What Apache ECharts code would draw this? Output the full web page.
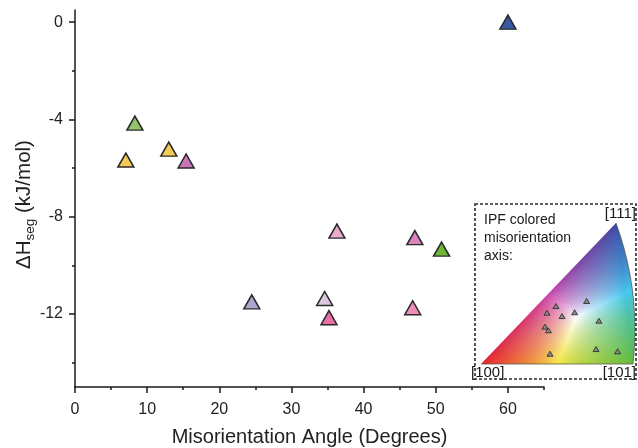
<!DOCTYPE html>
<html><head><meta charset="utf-8">
<script src="https://cdn.jsdelivr.net/npm/echarts@6/dist/echarts.min.js"></script>
<style>html,body{margin:0;padding:0;background:#fff}#c{width:638px;height:448px}</style>
</head><body><div id="c"></div>
<script>
// ---- data ----
const angles = [60.0, 8.3, 7.05, 13.0, 15.4, 24.5, 34.6, 35.2, 36.3, 47.1, 50.8, 46.8];
const dH     = [0.0, -4.15, -5.67, -5.22, -5.71, -11.5, -11.36, -12.15, -8.59, -8.86, -9.33, -11.74];
const pointColors = ['#3b5aa6', '#93c46c', '#f4cb55', '#f4cb55', '#c874b8', '#a9a8d3',
                     '#dcc6e0', '#ec6faa', '#e9aacd', '#dc83bf', '#6cb835', '#f08dbd'];
const xMajorTicks = [0, 10, 20, 30, 40, 50, 60];
const xMinorTicks = [5, 15, 25, 35, 45, 55, 65];
const yMajorTicks = [0, -4, -8, -12];
const yMinorTicks = [-2, -6, -10, -14];
// inset (IPF triangle) marker positions, normalised to the triangle's bounding box
const ipfX = [0.493, 0.695, 0.434, 0.533, 0.616, 0.776, 0.421, 0.443, 0.454, 0.757, 0.899];
const ipfY = [0.411, 0.447, 0.364, 0.340, 0.367, 0.307, 0.265, 0.239, 0.073, 0.106, 0.090];
const insetLines = ['IPF colored', 'misorientation', 'axis:'];
const cornerLabels = ['[100]', '[101]', '[111]'];

const FONT = '"Liberation Sans", Arial, Helvetica, sans-serif';
const AX = '#1a1a1a';

function makeIPF() {
  const ox = 478, oy = 221, W = 160, H = 146, S = 2;
  const R = [481 - ox, 364 - oy], G = [633 - ox, 364 - oy], B = [616 - ox, 223 - oy];
  const Ctl = [641 - ox, 292 - oy];
  const Rc = [230, 30, 40], Gc = [95, 185, 55], Bc = [60, 70, 160];
  const Krg = [-80, 15, -35], Krb = [-90, -40, -30], Kgb = [-85, -55, 25], Kc = [125, 50, 40];
  const tmp = document.createElement('canvas'); tmp.width = W * S; tmp.height = H * S;
  const tc = tmp.getContext('2d'); const img = tc.createImageData(W * S, H * S);
  const det = (G[1] - B[1]) * (R[0] - B[0]) + (B[0] - G[0]) * (R[1] - B[1]);
  for (let j = 0; j < H * S; j++) {
    for (let i = 0; i < W * S; i++) {
      const px = (i + 0.5) / S, py = (j + 0.5) / S;
      let a = ((G[1] - B[1]) * (px - B[0]) + (B[0] - G[0]) * (py - B[1])) / det;
      let b = ((B[1] - R[1]) * (px - B[0]) + (R[0] - B[0]) * (py - B[1])) / det;
      let c = 1 - a - b;
      a = Math.max(a, 0); b = Math.max(b, 0); c = Math.max(c, 0);
      const m = Math.max(a, b, c, 1e-6);
      a = Math.pow(a / m, 0.75); b = Math.pow(b / m, 0.75); c = Math.pow(c / m, 0.75);
      const k = (j * W * S + i) * 4;
      for (let ch = 0; ch < 3; ch++) {
        const v = a * Rc[ch] + b * Gc[ch] + c * Bc[ch] + a * b * Krg[ch] + a * c * Krb[ch] + b * c * Kgb[ch] + a * b * c * Kc[ch];
        img.data[k + ch] = Math.max(0, Math.min(255, v));
      }
      img.data[k + 3] = 255;
    }
  }
  tc.putImageData(img, 0, 0);
  const cv = document.createElement('canvas'); cv.width = W * S; cv.height = H * S;
  const ctx = cv.getContext('2d');
  ctx.scale(S, S);
  ctx.beginPath(); ctx.moveTo(R[0], R[1]); ctx.lineTo(G[0], G[1]);
  ctx.quadraticCurveTo(Ctl[0], Ctl[1], B[0], B[1]); ctx.closePath();
  ctx.save(); ctx.clip(); ctx.setTransform(1, 0, 0, 1, 0, 0); ctx.drawImage(tmp, 0, 0); ctx.restore();
  ctx.beginPath(); ctx.moveTo(R[0], R[1]); ctx.lineTo(G[0], G[1]);
  ctx.quadraticCurveTo(Ctl[0], Ctl[1], B[0], B[1]);
  ctx.strokeStyle = 'rgba(90,90,90,0.8)'; ctx.lineWidth = 1; ctx.stroke();
  return { canvas: cv, x: ox, y: oy, w: W, h: H };
}
const ipf = makeIPF();

const chart = echarts.init(document.getElementById('c'));
const tickStyle = { color: AX, width: 1.5 };
const labelStyle = { fontSize: 16, color: '#222', fontFamily: FONT };
const mainGrid = { left: 75, top: 10, right: 94, bottom: 61, containLabel: false, outerBoundsMode: 'none' };

chart.setOption({
  animation: false,
  backgroundColor: '#fff',
  grid: [
    mainGrid,
    { left: 481, top: 223, width: 152, height: 141, containLabel: false, outerBoundsMode: 'none' },
    Object.assign({}, mainGrid)
  ],
  xAxis: [
    { type: 'value', gridIndex: 0, min: 0, max: 65, position: 'bottom',
      axisLine: { show: true, onZero: false, lineStyle: { color: AX, width: 1.5 } },
      axisTick: { show: true, customValues: xMajorTicks, length: 6, lineStyle: tickStyle },
      axisLabel: Object.assign({ customValues: xMajorTicks, margin: 15 }, labelStyle),
      splitLine: { show: false },
      name: 'Misorientation Angle (Degrees)', nameLocation: 'middle', nameGap: 40,
      nameTextStyle: { fontSize: 20, color: '#222', fontFamily: FONT } },
    { type: 'value', gridIndex: 1, min: 0, max: 1, show: false },
    { type: 'value', gridIndex: 2, min: 0, max: 65, position: 'bottom',
      axisLine: { show: false, onZero: false },
      axisTick: { show: true, customValues: xMinorTicks, length: 3, lineStyle: tickStyle },
      axisLabel: { show: false }, splitLine: { show: false } }
  ],
  yAxis: [
    { type: 'value', gridIndex: 0, min: -15, max: 0.5, position: 'left',
      axisLine: { show: true, onZero: false, lineStyle: { color: AX, width: 1.5 } },
      axisTick: { show: true, customValues: yMajorTicks, length: 6, lineStyle: tickStyle },
      axisLabel: Object.assign({ customValues: yMajorTicks, margin: 12 }, labelStyle),
      splitLine: { show: false },
      name: '{a|ΔH}{s|seg}{a| (kJ/mol)}', nameLocation: 'middle', nameGap: 38, nameMoveOverlap: false,
      nameTextStyle: { fontFamily: FONT, color: '#222', padding: [0, 12, 0, 0],
        rich: { a: { fontSize: 20.5, lineHeight: 25, fontFamily: FONT, color: '#222' },
                s: { fontSize: 13.5, lineHeight: 13, verticalAlign: 'bottom', fontFamily: FONT, color: '#222' } } } },
    { type: 'value', gridIndex: 1, min: 0, max: 1, show: false },
    { type: 'value', gridIndex: 2, min: -15, max: 0.5, position: 'left',
      axisLine: { show: false, onZero: false },
      axisTick: { show: true, customValues: yMinorTicks, length: 3, lineStyle: tickStyle },
      axisLabel: { show: false }, splitLine: { show: false } }
  ],
  graphic: { elements: [
    { type: 'image', z: 1, silent: true,
      style: { image: ipf.canvas, x: ipf.x, y: ipf.y, width: ipf.w, height: ipf.h } },
    { type: 'rect', z: 3, silent: true,
      shape: { x: 475, y: 204, width: 161, height: 175 },
      style: { fill: 'none', stroke: '#2a2a2a', lineWidth: 1.6, lineDash: [3, 2] } },
    ...insetLines.map((t, i) => ({ type: 'text', z: 4, silent: true,
      style: { text: t, x: 484, y: 220 + i * 18, font: '14px ' + FONT, fill: '#1a1a1a',
               textVerticalAlign: 'middle', verticalAlign: 'middle' } })),
    { type: 'text', z: 4, silent: true,
      style: { text: cornerLabels[0], x: 471, y: 373, font: '15px ' + FONT, fill: '#1a1a1a',
               textVerticalAlign: 'middle', verticalAlign: 'middle' } },
    { type: 'text', z: 4, silent: true,
      style: { text: cornerLabels[1], x: 636, y: 373, font: '15px ' + FONT, fill: '#1a1a1a',
               textAlign: 'right', align: 'right', textVerticalAlign: 'middle', verticalAlign: 'middle' } },
    { type: 'text', z: 4, silent: true,
      style: { text: cornerLabels[2], x: 636, y: 214, font: '15px ' + FONT, fill: '#1a1a1a',
               textAlign: 'right', align: 'right', textVerticalAlign: 'middle', verticalAlign: 'middle' } }
  ] },
  series: [
    { type: 'scatter', xAxisIndex: 0, yAxisIndex: 0, symbol: 'triangle', symbolSize: [16, 14], z: 5,
      itemStyle: { borderColor: '#2a2a2a', borderWidth: 1.5, opacity: 1 },
      data: angles.map((x, i) => ({ value: [x, dH[i]], itemStyle: { color: pointColors[i] } })) },
    { type: 'scatter', xAxisIndex: 1, yAxisIndex: 1, symbol: 'triangle', symbolSize: [6, 5], z: 5,
      itemStyle: { color: '#8a8a8a', borderColor: '#222', borderWidth: 0.8, opacity: 1 },
      data: ipfX.map((x, i) => [x, ipfY[i]]) }
  ]
});
</script></body></html>
